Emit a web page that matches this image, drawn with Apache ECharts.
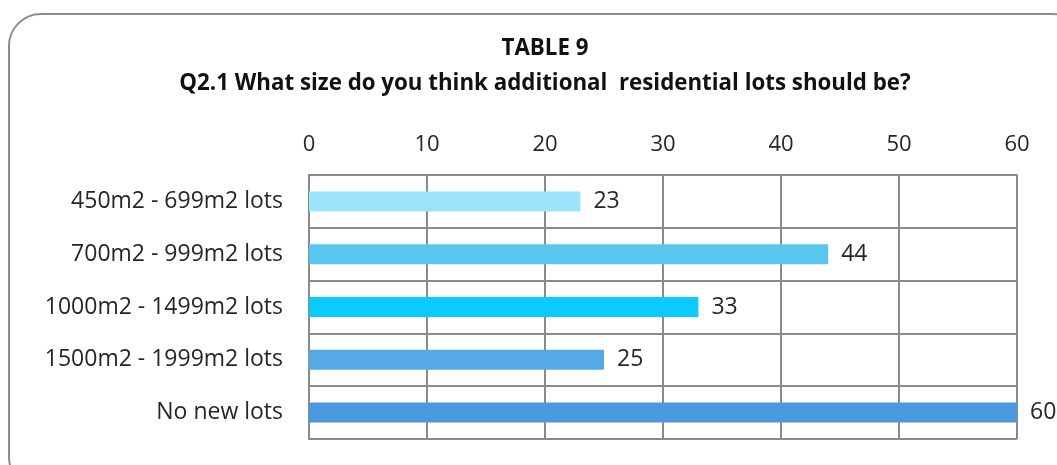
<!DOCTYPE html>
<html>
<head>
<meta charset="utf-8">
<style>
  html, body { margin: 0; padding: 0; background: #ffffff; }
  #chart { width: 1057px; height: 465px; }
</style>
<script src="https://cdn.jsdelivr.net/npm/echarts@6/dist/echarts.min.js"></script>
</head>
<body>
<div id="chart"></div>
<script>
// Lot-size preferences, top to bottom
const categories = [
  '450m2 - 699m2 lots',
  '700m2 - 999m2 lots',
  '1000m2 - 1499m2 lots',
  '1500m2 - 1999m2 lots',
  'No new lots'
];
const responses = [23, 44, 33, 25, 60];
const barColors = ['#9AE4FC', '#58C6EE', '#0BCBFE', '#55A9E6', '#4A99DE'];
const titleLines = ['TABLE 9', 'Q2.1 What size do you think additional  residential lots should be?'];

const FONT = '"Open Sans", "Noto Sans", sans-serif';
const TEXT = '#262626';
const GRIDLINE = '#8a8a8a';

const chart = echarts.init(document.getElementById('chart'), null, { renderer: 'canvas' });

chart.setOption({
  animation: false,
  backgroundColor: '#ffffff',
  graphic: [{
    type: 'rect',
    shape: { x: 9, y: 14, width: 1075, height: 475, r: 32 },
    style: { fill: 'none', stroke: '#8c8c8c', lineWidth: 2 },
    z: -1
  }],
  title: {
    text: titleLines.join('\n'),
    left: 540,
    top: 26,
    textAlign: 'center',
    textStyle: {
      fontFamily: FONT,
      fontWeight: 'bold',
      fontSize: 22.3,
      lineHeight: 35,
      color: '#111111'
    }
  },
  grid: { left: 309, right: 40, top: 175, bottom: 26, containLabel: false },
  xAxis: {
    type: 'value',
    position: 'top',
    min: 0,
    max: 60,
    interval: 10,
    axisLine: { show: true, lineStyle: { color: GRIDLINE, width: 2 } },
    axisTick: { show: false },
    axisLabel: { fontFamily: FONT, fontSize: 22, color: TEXT, margin: 19 },
    splitLine: { show: true, lineStyle: { color: GRIDLINE, width: 2 } }
  },
  yAxis: {
    type: 'category',
    data: categories,
    inverse: true,
    axisLine: { show: true, lineStyle: { color: GRIDLINE, width: 2 } },
    axisTick: { show: false },
    axisLabel: { fontFamily: FONT, fontSize: 23, color: TEXT, margin: 26 },
    splitLine: { show: true, lineStyle: { color: GRIDLINE, width: 2 } }
  },
  series: [{
    type: 'bar',
    data: responses.map((v, i) => ({ value: v, itemStyle: { color: barColors[i] } })),
    barWidth: 20,
    label: {
      show: true,
      position: 'right',
      distance: 13,
      fontFamily: FONT,
      fontSize: 23,
      color: TEXT
    }
  }]
});
</script>
</body>
</html>
